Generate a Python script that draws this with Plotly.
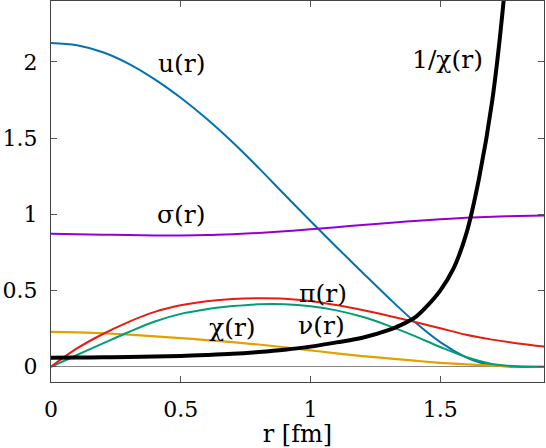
import plotly.graph_objects as go

r = [0.0, 0.1, 0.2, 0.3, 0.4, 0.5, 0.6, 0.7, 0.8, 0.9, 1.0,
     1.1, 1.2, 1.3, 1.4, 1.5, 1.6, 1.7, 1.8, 1.9]

r_u = [0.0, 0.1, 0.2, 0.3, 0.4, 0.5, 0.6, 0.7, 0.8, 0.9, 1.0,
       1.1, 1.2, 1.3, 1.4, 1.5, 1.6, 1.65, 1.7, 1.8, 1.9]
u_vals = [2.125, 2.11, 2.064, 1.988, 1.886, 1.765, 1.627, 1.473, 1.305, 1.13, 0.956,
          0.786, 0.619, 0.454, 0.297, 0.162, 0.062, 0.029, 0.01, 0.0, -0.002]
sigma_vals = [0.872, 0.870, 0.867, 0.864, 0.862, 0.862, 0.864, 0.870, 0.878, 0.889, 0.902,
              0.916, 0.930, 0.944, 0.957, 0.968, 0.978, 0.985, 0.989, 0.993]
pi_vals = [0.0, 0.12, 0.215, 0.295, 0.36, 0.403, 0.43, 0.445, 0.45, 0.447, 0.432,
           0.405, 0.372, 0.335, 0.295, 0.253, 0.21, 0.178, 0.153, 0.133]
nu_vals = [0.0, 0.077, 0.153, 0.228, 0.297, 0.347, 0.378, 0.398, 0.41, 0.41, 0.397,
           0.37, 0.328, 0.27, 0.203, 0.13, 0.064, 0.018, 0.002, 0.0]
chi_vals = [0.229, 0.226, 0.22, 0.211, 0.2, 0.188, 0.175, 0.161, 0.146, 0.128, 0.108,
            0.088, 0.07, 0.055, 0.04, 0.026, 0.015, 0.007, 0.002, 0.0]

r_inv = [0.0, 0.1, 0.2, 0.3, 0.4, 0.5, 0.6, 0.7, 0.8, 0.9, 1.0, 1.1, 1.2,
         1.3, 1.35, 1.4, 1.45, 1.5, 1.55, 1.6, 1.65, 1.7, 1.75, 1.8]
inv_chi_vals = [0.059, 0.060, 0.062, 0.064, 0.067, 0.071, 0.077, 0.085, 0.097, 0.112, 0.132, 0.16, 0.19,
                0.24, 0.275, 0.32, 0.40, 0.50, 0.64, 0.87, 1.24, 1.74, 2.5, 3.6]

labels = ["u(r)", "σ(r)", "1/χ(r)", "π(r)", "ν(r)", "χ(r)"]
label_x = [0.504, 0.504, 1.528, 1.049, 1.043, 0.70]
label_y = [1.99, 1.0, 2.015, 0.48, 0.27, 0.26]

x_ticks = [0, 0.5, 1, 1.5]
x_ticktext = ["0", "0.5", "1", "1.5"]
y_ticks = [0, 0.5, 1, 1.5, 2]
y_ticktext = ["0", "0.5", "1", "1.5", "2"]

FONT = "DejaVu Serif"

fig = go.Figure()
series = [
    (r_u, u_vals, "#0072b2", 2),
    (r, sigma_vals, "#9400d3", 2),
    (r, chi_vals, "#e69f00", 2.2),
    (r, nu_vals, "#009e73", 2),
    (r, pi_vals, "#e51e10", 2),
    (r_inv, inv_chi_vals, "#000000", 4),
]
for xs, ys, col, w in series:
    fig.add_trace(go.Scatter(x=xs, y=ys, mode="lines",
                             line=dict(color=col, width=w, shape="spline", smoothing=1.0),
                             showlegend=False, hoverinfo="skip"))

for t, x, y in zip(labels, label_x, label_y):
    fig.add_annotation(x=x, y=y, text=t, showarrow=False,
                       font=dict(family=FONT, size=25, color="#000"),
                       xanchor="center", yanchor="middle")

fig.update_layout(
    width=546, height=448,
    margin=dict(l=51, r=2, t=1, b=66),
    paper_bgcolor="white", plot_bgcolor="white",
    font=dict(family=FONT, size=22, color="#000"),
)
fig.update_xaxes(range=[0, 1.9], tickvals=x_ticks, ticktext=x_ticktext,
                 ticks="inside", ticklen=6, tickcolor="#555", mirror="ticks",
                 showline=True, linecolor="#444", linewidth=1, showgrid=False,
                 zeroline=False, ticklabelstandoff=8,
                 title=dict(text="r [fm]", font=dict(family=FONT, size=24), standoff=8))
fig.update_yaxes(range=[-0.1, 2.4], tickvals=y_ticks, ticktext=y_ticktext,
                 ticks="inside", ticklen=6, tickcolor="#555", mirror="ticks",
                 showline=True, linecolor="#444", linewidth=1, showgrid=False,
                 zeroline=True, zerolinecolor="#888", zerolinewidth=1,
                 ticklabelstandoff=8)

fig.write_html("out.html")
